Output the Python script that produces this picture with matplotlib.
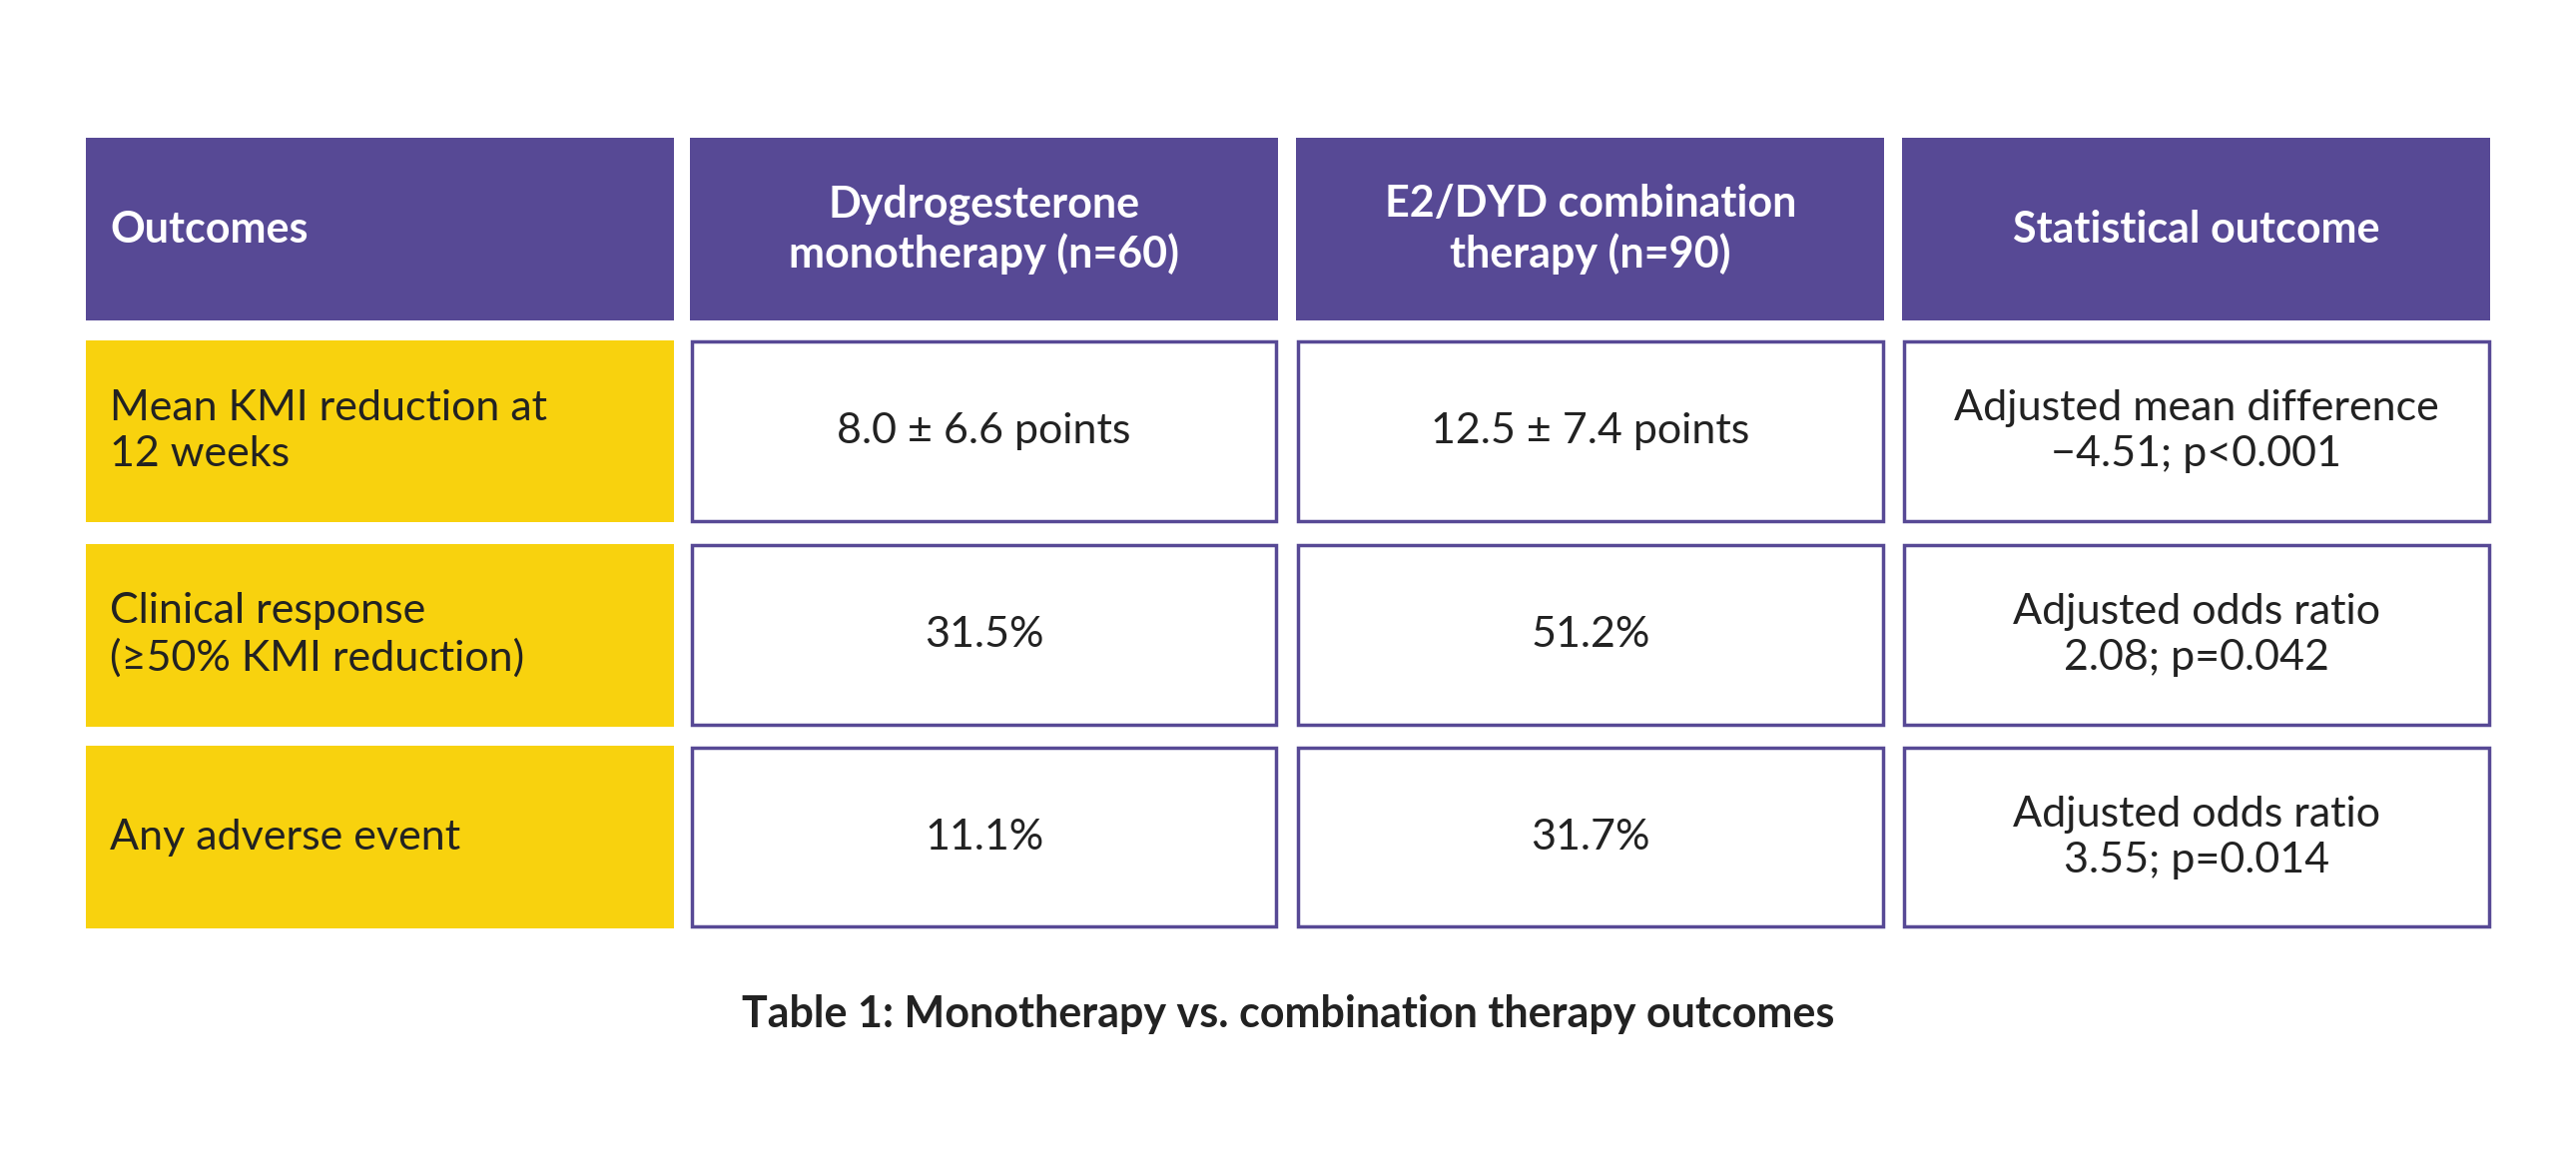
import matplotlib
matplotlib.use("Agg")
import matplotlib.pyplot as plt
from matplotlib.patches import Rectangle

# table content
headers = ["Outcomes", "Dydrogesterone\nmonotherapy (n=60)",
           "E2/DYD combination\ntherapy (n=90)", "Statistical outcome"]
outcomes = ["Mean KMI reduction at\n12 weeks", "Clinical response\n(≥50% KMI reduction)",
            "Any adverse event"]
mono = ["8.0 ± 6.6 points", "31.5%", "11.1%"]
combo = ["12.5 ± 7.4 points", "51.2%", "31.7%"]
stats = ["Adjusted mean difference\n−4.51; p<0.001", "Adjusted odds ratio\n2.08; p=0.042",
         "Adjusted odds ratio\n3.55; p=0.014"]
caption = "Table 1: Monotherapy vs. combination therapy outcomes"

purple = "#574995"
yellow = "#F8D20E"
dark = "#222222"

plt.rcParams['font.family'] = ['Lato', 'DejaVu Sans']

fig = plt.figure(figsize=(25.8, 11.67), dpi=100)
ax = fig.add_axes([0, 0, 1, 1])
ax.set_xlim(0, 1568)
ax.set_ylim(709, 0)
ax.axis("off")

col_x = [52, 420, 789, 1158]
col_w = 358
row_y = [84, 207, 331, 454]
row_h = 111
fs = 31

# header
for i, h in enumerate(headers):
    ax.add_patch(Rectangle((col_x[i], row_y[0]), col_w, row_h, facecolor=purple, edgecolor="none"))
    if i == 0:
        ax.text(col_x[i] + 15, row_y[0] + row_h / 2, h, color="white", fontsize=fs,
                fontweight="bold", ha="left", va="center")
    else:
        ax.text(col_x[i] + col_w / 2, row_y[0] + row_h / 2, h, color="white", fontsize=fs,
                fontweight="bold", ha="center", va="center", linespacing=1.25)

# body rows
for r in range(3):
    y = row_y[r + 1]
    ax.add_patch(Rectangle((col_x[0], y), col_w, row_h, facecolor=yellow, edgecolor="none"))
    ax.text(col_x[0] + 15, y + row_h / 2, outcomes[r], color=dark, fontsize=fs,
            ha="left", va="center", linespacing=1.25)
    for c, vals in zip(range(1, 4), [mono, combo, stats]):
        ax.add_patch(Rectangle((col_x[c] + 1, y + 1), col_w - 2, row_h - 2, facecolor="white",
                               edgecolor=purple, linewidth=2.5))
        ax.text(col_x[c] + col_w / 2, y + row_h / 2, vals[r], color=dark, fontsize=fs,
                ha="center", va="center", linespacing=1.25)

ax.text(784, 617, caption, color=dark, fontsize=31, fontweight="bold", ha="center", va="center")

fig.savefig("out.png", dpi=100, facecolor="white")
